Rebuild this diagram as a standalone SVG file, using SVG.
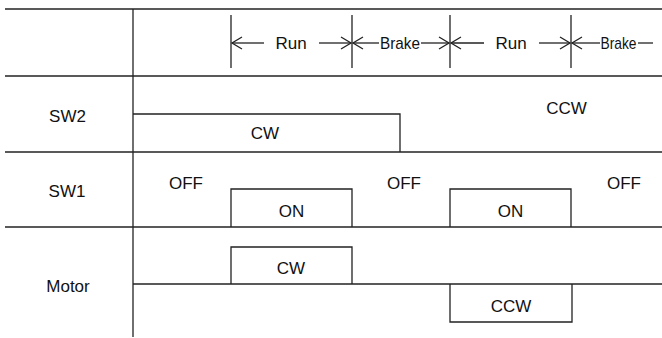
<svg xmlns="http://www.w3.org/2000/svg" width="662" height="338" viewBox="0 0 662 338">
<style>
.ln{stroke:#222;stroke-width:1.3;fill:none}
.t{font-family:"Liberation Sans",Arial,sans-serif;font-size:17px;fill:#111;text-anchor:middle}
.b{font-family:"Liberation Sans",Arial,sans-serif;font-size:17px;fill:#111;text-anchor:middle}
</style>
<defs>
<marker id="arr" markerUnits="userSpaceOnUse" markerWidth="14" markerHeight="16" refX="11" refY="7" orient="auto" viewBox="0 0 14 16">
<path d="M1,1 L11,7 L1,13" stroke="#222" stroke-width="1.3" fill="none"/>
</marker>
</defs>
<g id="grid">
<line class="ln" x1="5" y1="9" x2="662" y2="9"/>
<line class="ln" x1="5" y1="76" x2="662" y2="76"/>
<line class="ln" x1="5" y1="152" x2="662" y2="152"/>
<line class="ln" x1="5" y1="227" x2="662" y2="227"/>
<line class="ln" x1="133" y1="9" x2="133" y2="337"/>
</g>
<g id="timeline">
<line class="ln" x1="231" y1="15" x2="231" y2="68"/>
<line class="ln" x1="352" y1="15" x2="352" y2="68"/>
<line class="ln" x1="450" y1="15" x2="450" y2="68"/>
<line class="ln" x1="571" y1="15" x2="571" y2="68"/>
<line class="ln" x1="264" y1="43" x2="232" y2="43" marker-end="url(#arr)"/>
<line class="ln" x1="319" y1="43" x2="351" y2="43" marker-end="url(#arr)"/>
<line class="ln" x1="379" y1="43" x2="353" y2="43" marker-end="url(#arr)"/>
<line class="ln" x1="421" y1="43" x2="449" y2="43" marker-end="url(#arr)"/>
<line class="ln" x1="484" y1="43" x2="451" y2="43" marker-end="url(#arr)"/>
<line class="ln" x1="539" y1="43" x2="570" y2="43" marker-end="url(#arr)"/>
<line class="ln" x1="600" y1="43" x2="572" y2="43" marker-end="url(#arr)"/>
<line class="ln" x1="638" y1="43" x2="653" y2="43"/>
<text class="t" x="291" y="49">Run</text>
<text class="b" x="400" y="49" textLength="40" lengthAdjust="spacingAndGlyphs">Brake</text>
<text class="t" x="511" y="49">Run</text>
<text class="b" x="618.5" y="49" textLength="36" lengthAdjust="spacingAndGlyphs">Brake</text>
</g>
<g id="sw2">
<text class="t" x="67.5" y="122">SW2</text>
<polyline class="ln" points="133,114 400,114 400,152"/>
<text class="t" x="265" y="139">CW</text>
<text class="t" x="566.5" y="114">CCW</text>
</g>
<g id="sw1">
<text class="t" x="67" y="197">SW1</text>
<polyline class="ln" points="231,227 231,189 352,189 352,227"/>
<polyline class="ln" points="450,227 450,189 571,189 571,227"/>
<text class="t" x="186" y="189">OFF</text>
<text class="t" x="404" y="189">OFF</text>
<text class="t" x="624" y="189">OFF</text>
<text class="t" x="291.5" y="217">ON</text>
<text class="t" x="510.5" y="217">ON</text>
</g>
<g id="motor">
<text class="t" x="68" y="292">Motor</text>
<line class="ln" x1="133" y1="284" x2="662" y2="284"/>
<polyline class="ln" points="231,284 231,247 352,247 352,284"/>
<polyline class="ln" points="450,284 450,322 572,322 572,284"/>
<text class="t" x="291" y="274">CW</text>
<text class="t" x="511" y="312">CCW</text>
</g>
</svg>
